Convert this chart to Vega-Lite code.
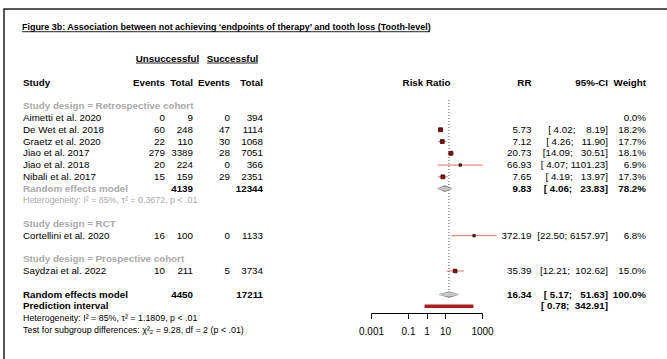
{
  "$schema": "https://vega.github.io/schema/vega-lite/v6.json",
  "width": 680,
  "height": 353.1,
  "padding": {"left": 4, "top": 9, "right": 0, "bottom": 0},
  "autosize": {"type": "none"},
  "background": "white",
  "config": {
    "view": {"stroke": "#222222", "strokeWidth": 1.5},
    "font": "Liberation Sans",
    "text": {"font": "Liberation Sans", "baseline": "middle", "fontSize": 9.8}
  },
  "data": {
    "values": [
      {"row": 0, "type": "header", "study": "Study", "ev1": "Events", "tot1": "Total", "ev2": "Events", "tot2": "Total", "rr": "RR", "ci": "95%-CI", "wt": "Weight", "plot": "Risk Ratio"},
      {"row": 2, "type": "group", "study": "Study design = Retrospective cohort"},
      {"row": 3, "type": "study", "study": "Aimetti et al. 2020", "ev1": 0, "tot1": 9, "ev2": 0, "tot2": 394, "wt": "0.0%", "weight": 0},
      {"row": 4, "type": "study", "study": "De Wet et al. 2018", "ev1": 60, "tot1": 248, "ev2": 47, "tot2": 1114, "rr": 5.73, "lower": 4.02, "upper": 8.19, "ci": "[\u00a04.02;\u00a0\u00a0\u00a0\u00a08.19]", "wt": "18.2%", "weight": 18.2},
      {"row": 5, "type": "study", "study": "Graetz et al. 2020", "ev1": 22, "tot1": 110, "ev2": 30, "tot2": 1068, "rr": 7.12, "lower": 4.26, "upper": 11.9, "ci": "[\u00a04.26;\u00a0\u00a0\u00a011.90]", "wt": "17.7%", "weight": 17.7},
      {"row": 6, "type": "study", "study": "Jiao et al. 2017", "ev1": 279, "tot1": 3389, "ev2": 28, "tot2": 7051, "rr": 20.73, "lower": 14.09, "upper": 30.51, "ci": "[14.09;\u00a0\u00a0\u00a030.51]", "wt": "18.1%", "weight": 18.1},
      {"row": 7, "type": "study", "study": "Jiao et al. 2018", "ev1": 20, "tot1": 224, "ev2": 0, "tot2": 366, "rr": 66.93, "lower": 4.07, "upper": 1101.23, "ci": "[\u00a04.07;\u00a01101.23]", "wt": "6.9%", "weight": 6.9},
      {"row": 8, "type": "study", "study": "Nibali et al. 2017", "ev1": 15, "tot1": 159, "ev2": 29, "tot2": 2351, "rr": 7.65, "lower": 4.19, "upper": 13.97, "ci": "[\u00a04.19;\u00a0\u00a0\u00a013.97]", "wt": "17.3%", "weight": 17.3},
      {"row": 9, "type": "subtotal", "study": "Random effects model", "tot1": 4139, "tot2": 12344, "rr": 9.83, "lower": 4.06, "upper": 23.83, "ci": "[\u00a04.06;\u00a0\u00a0\u00a023.83]", "wt": "78.2%", "weight": 78.2},
      {"row": 10, "type": "het_sub", "study": "Heterogeneity: I² = 85%, τ² = 0.3672, p < .01"},
      {"row": 12, "type": "group", "study": "Study design = RCT"},
      {"row": 13, "type": "study", "study": "Cortellini et al. 2020", "ev1": 16, "tot1": 100, "ev2": 0, "tot2": 1133, "rr": 372.19, "lower": 22.5, "upper": 6157.97, "ci": "[22.50;\u00a06157.97]", "wt": "6.8%", "weight": 6.8},
      {"row": 15, "type": "group", "study": "Study design = Prospective cohort"},
      {"row": 16, "type": "study", "study": "Saydzai et al. 2022", "ev1": 10, "tot1": 211, "ev2": 5, "tot2": 3734, "rr": 35.39, "lower": 12.21, "upper": 102.62, "ci": "[12.21;\u00a0\u00a0102.62]", "wt": "15.0%", "weight": 15.0},
      {"row": 18, "type": "total", "study": "Random effects model", "tot1": 4450, "tot2": 17211, "rr": 16.34, "lower": 5.17, "upper": 51.63, "ci": "[\u00a05.17;\u00a0\u00a0\u00a051.63]", "wt": "100.0%", "weight": 100},
      {"row": 19, "type": "pi", "study": "Prediction interval", "lower": 0.78, "upper": 342.91, "ci": "[\u00a00.78;\u00a0\u00a0342.91]"},
      {"row": 20, "type": "het", "study": "Heterogeneity: I² = 85%, τ² = 1.1809, p < .01"},
      {"row": 21, "type": "test", "study": "Test for subgroup differences: χ²₂ = 9.28, df = 2 (p < .01)"}
    ]
  },
  "encoding": {
    "y": {"field": "row", "type": "quantitative", "scale": {"domain": [-6.26, 23.74], "reverse": true, "nice": false, "zero": false}, "axis": null}
  },
  "resolve": {"scale": {"x": "independent"}},
  "layer": [
    {
      "data": {"values": [
        {"row": -4.33, "from": 18, "to": 426},
        {"row": -1.67, "from": 132, "to": 195},
        {"row": -1.67, "from": 203, "to": 254}
      ]},
      "mark": {"type": "rule", "color": "#222", "strokeWidth": 1},
      "encoding": {
        "x": {"field": "from", "type": "quantitative", "scale": {"domain": [0, 680], "range": [0, 680], "nice": false, "zero": false}, "axis": null},
        "x2": {"field": "to"}
      }
    },
    {
      "layer": [
        {
          "data": {"values": [{"row": -4.76, "label": "Figure 3b: Association between not achieving ‘endpoints of therapy’ and tooth loss (Tooth-level)"}]},
          "mark": {"type": "text", "align": "left", "fontWeight": "bold", "fontSize": 8.95, "color": "#000"},
          "encoding": {"x": {"value": 18}, "text": {"field": "label"}}
        },
        {
          "data": {"values": [{"row": -2.01, "label": "Unsuccessful"}]},
          "mark": {"type": "text", "align": "center", "fontWeight": "bold", "color": "#000"},
          "encoding": {"x": {"value": 163.5}, "text": {"field": "label"}}
        },
        {
          "data": {"values": [{"row": -2.01, "label": "Successful"}]},
          "mark": {"type": "text", "align": "center", "fontWeight": "bold", "color": "#000"},
          "encoding": {"x": {"value": 228.5}, "text": {"field": "label"}}
        },
        {
          "transform": [{"filter": "isValid(datum.study)"}],
          "mark": {"type": "text", "align": "left", "fontWeight": {"expr": "indexof(['header','group','subtotal','total','pi'], datum.type) >= 0 ? 'bold' : 'normal'"}},
          "encoding": {
            "x": {"value": 19},
            "text": {"field": "study"},
            "color": {"field": "type", "type": "nominal", "legend": null, "scale": {"type": "ordinal", "domain": ["header", "group", "study", "subtotal", "het_sub", "total", "pi", "het", "test"], "range": ["#000000", "#A9A9A9", "#000000", "#A9A9A9", "#A9A9A9", "#000000", "#000000", "#000000", "#000000"]}},
            "size": {"field": "type", "type": "nominal", "legend": null, "scale": {"type": "ordinal", "domain": ["header", "group", "study", "subtotal", "het_sub", "total", "pi", "het", "test"], "range": [9.8, 9.8, 9.8, 9.8, 8.9, 9.8, 9.8, 8.9, 8.9]}}
          }
        },
        {
          "transform": [{"filter": "isValid(datum.ev1)"}],
          "mark": {"type": "text", "align": "right", "color": "#000", "fontWeight": {"expr": "indexof(['header','subtotal','total','pi'], datum.type) >= 0 ? 'bold' : 'normal'"}},
          "encoding": {"x": {"value": 161}, "text": {"field": "ev1", "type": "nominal"}}
        },
        {
          "transform": [{"filter": "isValid(datum.tot1)"}],
          "mark": {"type": "text", "align": "right", "color": "#000", "fontWeight": {"expr": "indexof(['header','subtotal','total','pi'], datum.type) >= 0 ? 'bold' : 'normal'"}},
          "encoding": {"x": {"value": 189}, "text": {"field": "tot1", "type": "nominal"}}
        },
        {
          "transform": [{"filter": "isValid(datum.ev2)"}],
          "mark": {"type": "text", "align": "right", "color": "#000", "fontWeight": {"expr": "indexof(['header','subtotal','total','pi'], datum.type) >= 0 ? 'bold' : 'normal'"}},
          "encoding": {"x": {"value": 226}, "text": {"field": "ev2", "type": "nominal"}}
        },
        {
          "transform": [{"filter": "isValid(datum.tot2)"}],
          "mark": {"type": "text", "align": "right", "color": "#000", "fontWeight": {"expr": "indexof(['header','subtotal','total','pi'], datum.type) >= 0 ? 'bold' : 'normal'"}},
          "encoding": {"x": {"value": 259}, "text": {"field": "tot2", "type": "nominal"}}
        },
        {
          "transform": [{"filter": "isValid(datum.rr)"}],
          "mark": {"type": "text", "align": "right", "color": "#000", "fontWeight": {"expr": "indexof(['header','subtotal','total','pi'], datum.type) >= 0 ? 'bold' : 'normal'"}},
          "encoding": {"x": {"value": 527.5}, "text": {"field": "rr", "type": "nominal"}}
        },
        {
          "transform": [{"filter": "isValid(datum.ci)"}],
          "mark": {"type": "text", "align": "right", "color": "#000", "fontWeight": {"expr": "indexof(['header','subtotal','total','pi'], datum.type) >= 0 ? 'bold' : 'normal'"}},
          "encoding": {"x": {"value": 604}, "text": {"field": "ci", "type": "nominal"}}
        },
        {
          "transform": [{"filter": "isValid(datum.wt)"}],
          "mark": {"type": "text", "align": "right", "color": "#000", "fontWeight": {"expr": "indexof(['header','subtotal','total','pi'], datum.type) >= 0 ? 'bold' : 'normal'"}},
          "encoding": {"x": {"value": 642}, "text": {"field": "wt", "type": "nominal"}}
        },
        {
          "transform": [{"filter": "datum.type == 'study' && isValid(datum.lower)"}],
          "mark": {"type": "rule", "color": "#F06A6A", "strokeWidth": 1},
          "encoding": {
            "x": {"field": "lower", "type": "quantitative", "scale": {"type": "log", "domain": [0.001, 1000], "range": [367, 478], "nice": false}, "axis": {"values": [0.001, 0.1, 1, 10, 1000], "format": "~g", "title": null, "grid": false, "offset": -49.1, "domainColor": "#000", "tickColor": "#000", "labelColor": "#000", "labelFont": "Liberation Sans", "labelFontSize": 10, "tickSize": 5.5, "labelPadding": 8, "labelFlush": false, "labelOverlap": false, "domainWidth": 1, "tickWidth": 1}},
            "x2": {"field": "upper"}
          }
        },
        {
          "transform": [{"filter": "datum.type == 'study' && isValid(datum.rr)"}],
          "mark": {"type": "square", "filled": true, "color": "#A00000", "stroke": "#111", "strokeWidth": 0.8, "opacity": 1},
          "encoding": {
            "x": {"field": "rr", "type": "quantitative", "axis": {"title": null}},
            "size": {"field": "weight", "type": "quantitative", "legend": null, "scale": {"domain": [0, 20], "range": [0, 17]}}
          }
        },
        {
          "transform": [{"filter": "datum.type == 'subtotal' || datum.type == 'total'"}, {"fold": ["lower", "rr", "upper"], "as": ["part", "xv"]}],
          "mark": {"type": "trail", "color": "#6E6E6E"},
          "encoding": {
            "x": {"field": "xv", "type": "quantitative", "axis": {"title": null}},
            "detail": {"field": "row"},
            "size": {"field": "part", "type": "nominal", "legend": null, "scale": {"type": "ordinal", "domain": ["lower", "rr", "upper"], "range": [0, 6.2, 0]}}
          }
        },
        {
          "transform": [{"filter": "datum.type == 'subtotal' || datum.type == 'total'"}, {"fold": ["lower", "rr", "upper"], "as": ["part", "xv"]}],
          "mark": {"type": "trail", "color": "#C8C8C8"},
          "encoding": {
            "x": {"field": "xv", "type": "quantitative", "axis": {"title": null}},
            "detail": {"field": "row"},
            "size": {"field": "part", "type": "nominal", "legend": null, "scale": {"type": "ordinal", "domain": ["lower", "rr", "upper"], "range": [0, 4.4, 0]}}
          }
        },
        {
          "transform": [{"filter": "datum.type == 'pi'"}],
          "mark": {"type": "rule", "color": "#B01C1C", "strokeWidth": 3.6, "strokeCap": "butt"},
          "encoding": {
            "x": {"field": "lower", "type": "quantitative", "axis": {"title": null}},
            "x2": {"field": "upper"}
          }
        },
        {
          "data": {"values": [{}]},
          "mark": {"type": "rule", "color": "#000", "strokeWidth": 1},
          "encoding": {"x": {"datum": 1, "type": "quantitative", "axis": {"title": null}}, "y": {"datum": 1.47}, "y2": {"datum": 19.6}}
        },
        {
          "transform": [{"filter": "datum.type == 'total'"}],
          "mark": {"type": "rule", "color": "#555", "strokeWidth": 1, "strokeDash": [1, 2]},
          "encoding": {"x": {"field": "rr", "type": "quantitative", "axis": {"title": null}}, "y": {"datum": 1.47}, "y2": {"datum": 17.75}}
        },
        {
          "transform": [{"filter": "datum.type == 'header'"}],
          "mark": {"type": "text", "align": "center", "fontWeight": "bold", "color": "#000"},
          "encoding": {"x": {"datum": 1, "type": "quantitative", "axis": {"title": null}}, "text": {"field": "plot"}}
        }
      ]
    }
  ]
}
